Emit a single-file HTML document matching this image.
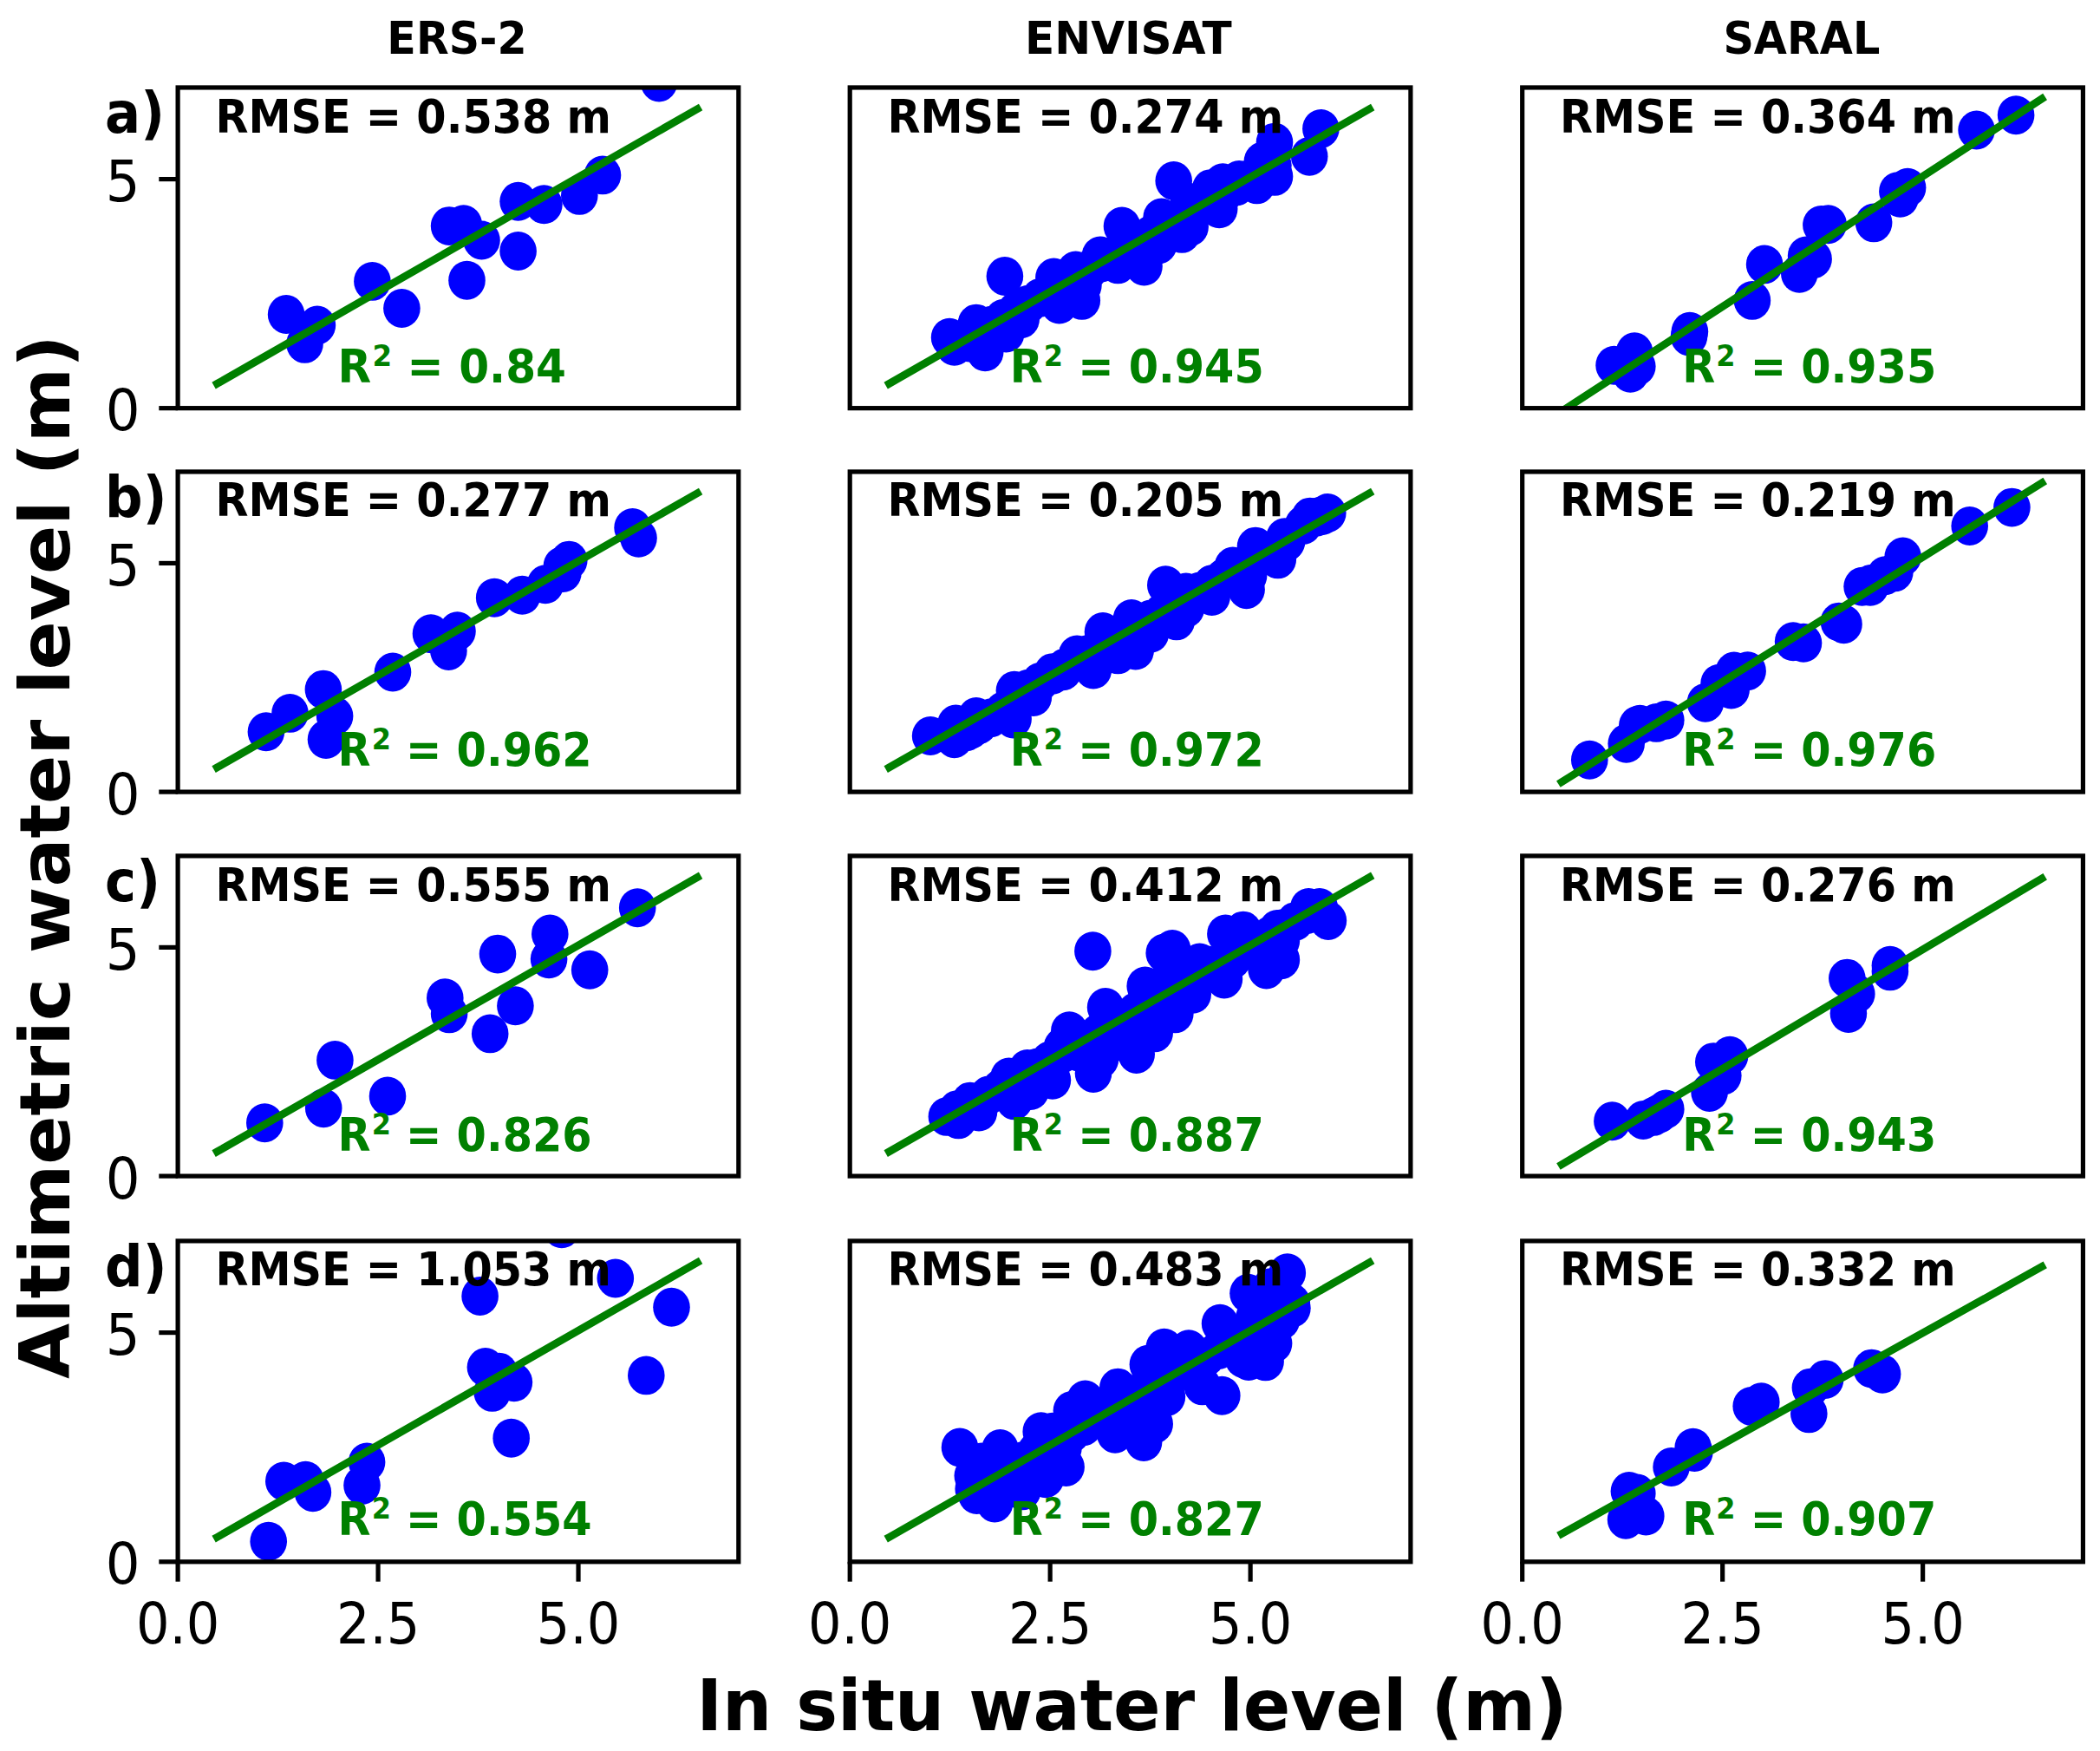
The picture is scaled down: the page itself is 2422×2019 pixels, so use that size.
<!DOCTYPE html>
<html lang="en"><head><meta charset="utf-8"><title>Altimetric vs in situ water level</title>
<style>html,body{margin:0;padding:0;background:#fff;overflow:hidden}svg{display:block}text{font-family:"DejaVu Sans","Liberation Sans",sans-serif}.b{font-weight:bold}.t{font-size:52.40px}.a{font-size:53.00px}.k{font-size:65.50px}.l{font-size:82.00px;font-weight:bold}.m{text-anchor:middle}.e{text-anchor:end}.g{fill:#008000}.p{fill:#0000ff}.ln{stroke:#008000;stroke-width:8.80;stroke-linecap:square;fill:none}.ax{fill:none;stroke:#000;stroke-width:5.20}.tk{stroke:#000;stroke-width:5.20;fill:none}</style></head><body>
<svg xmlns="http://www.w3.org/2000/svg" width="2422" height="2019" viewBox="0 0 2422 2019">
<rect width="2422" height="2019" fill="#fff"/>
<defs>
<clipPath id="c00"><rect x="205.10" y="100.95" width="646.70" height="369.70"/></clipPath>
<clipPath id="c01"><rect x="980.20" y="100.95" width="646.70" height="369.70"/></clipPath>
<clipPath id="c02"><rect x="1755.70" y="100.95" width="646.70" height="369.70"/></clipPath>
<clipPath id="c10"><rect x="205.10" y="543.95" width="646.70" height="369.15"/></clipPath>
<clipPath id="c11"><rect x="980.20" y="543.95" width="646.70" height="369.15"/></clipPath>
<clipPath id="c12"><rect x="1755.70" y="543.95" width="646.70" height="369.15"/></clipPath>
<clipPath id="c20"><rect x="205.10" y="986.90" width="646.70" height="369.20"/></clipPath>
<clipPath id="c21"><rect x="980.20" y="986.90" width="646.70" height="369.20"/></clipPath>
<clipPath id="c22"><rect x="1755.70" y="986.90" width="646.70" height="369.20"/></clipPath>
<clipPath id="c30"><rect x="205.10" y="1430.90" width="646.70" height="369.90"/></clipPath>
<clipPath id="c31"><rect x="980.20" y="1430.90" width="646.70" height="369.90"/></clipPath>
<clipPath id="c32"><rect x="1755.70" y="1430.90" width="646.70" height="369.90"/></clipPath>
</defs>
<g>
<g class="p" clip-path="url(#c00)"><ellipse cx="760.1" cy="95.0" rx="21.3" ry="22.45"/><ellipse cx="695.0" cy="201.9" rx="21.3" ry="22.45"/><ellipse cx="668.3" cy="225.4" rx="21.3" ry="22.45"/><ellipse cx="627.4" cy="235.8" rx="21.3" ry="22.45"/><ellipse cx="597.6" cy="232.3" rx="21.3" ry="22.45"/><ellipse cx="597.6" cy="289.5" rx="21.3" ry="22.45"/><ellipse cx="518.1" cy="260.6" rx="21.3" ry="22.45"/><ellipse cx="534.7" cy="258.7" rx="21.3" ry="22.45"/><ellipse cx="555.5" cy="277.0" rx="21.3" ry="22.45"/><ellipse cx="538.5" cy="323.2" rx="21.3" ry="22.45"/><ellipse cx="429.4" cy="324.4" rx="21.3" ry="22.45"/><ellipse cx="463.4" cy="355.5" rx="21.3" ry="22.45"/><ellipse cx="330.1" cy="362.5" rx="21.3" ry="22.45"/><ellipse cx="365.9" cy="375.0" rx="21.3" ry="22.45"/><ellipse cx="351.5" cy="396.4" rx="21.3" ry="22.45"/></g>
<g clip-path="url(#c00)"><path class="ln" d="M250.4 442.4L804.3 125.7"/></g>
<rect class="ax" x="205.10" y="100.95" width="646.70" height="369.70"/>
<path class="tk" d="M183.30 470.65H205.10"/>
<text class="k e" transform="translate(161.50 496.15) scale(0.955 1)">0</text>
<path class="tk" d="M183.30 206.58H205.10"/>
<text class="k e" transform="translate(161.50 232.08) scale(0.955 1)">5</text>
<text class="b k" transform="translate(121.10 152.95) scale(0.929 1)">a)</text>
<text class="b t m" transform="translate(526.95 62.10) scale(0.937 1)">ERS-2</text>
<text class="b a" transform="translate(248.40 152.65) scale(0.931 1)">RMSE = 0.538 m</text>
<text class="b a g" transform="translate(389.60 441.25) scale(0.948 1)">R<tspan dx="1.2" dy="-19.3" font-size="34.34px">2</tspan><tspan dy="19.3"> = 0.84</tspan></text>
</g>
<g>
<g class="p" clip-path="url(#c01)"><ellipse cx="1095.1" cy="389.2" rx="21.3" ry="22.45"/><ellipse cx="1125.9" cy="373.1" rx="21.3" ry="22.45"/><ellipse cx="1158.9" cy="318.5" rx="21.3" ry="22.45"/><ellipse cx="1179.3" cy="357.4" rx="21.3" ry="22.45"/><ellipse cx="1215.4" cy="320.0" rx="21.3" ry="22.45"/><ellipse cx="1240.6" cy="311.9" rx="21.3" ry="22.45"/><ellipse cx="1268.9" cy="294.9" rx="21.3" ry="22.45"/><ellipse cx="1294.0" cy="260.9" rx="21.3" ry="22.45"/><ellipse cx="1339.6" cy="250.9" rx="21.3" ry="22.45"/><ellipse cx="1353.7" cy="208.5" rx="21.3" ry="22.45"/><ellipse cx="1371.0" cy="233.3" rx="21.3" ry="22.45"/><ellipse cx="1396.1" cy="217.6" rx="21.3" ry="22.45"/><ellipse cx="1410.3" cy="210.7" rx="21.3" ry="22.45"/><ellipse cx="1429.1" cy="207.5" rx="21.3" ry="22.45"/><ellipse cx="1455.9" cy="186.1" rx="21.3" ry="22.45"/><ellipse cx="1470.0" cy="164.1" rx="21.3" ry="22.45"/><ellipse cx="1523.4" cy="148.4" rx="21.3" ry="22.45"/><ellipse cx="1510.2" cy="180.2" rx="21.3" ry="22.45"/><ellipse cx="1118.0" cy="395.1" rx="21.3" ry="22.45"/><ellipse cx="1136.2" cy="405.8" rx="21.3" ry="22.45"/><ellipse cx="1160.4" cy="384.1" rx="21.3" ry="22.45"/><ellipse cx="1177.7" cy="367.8" rx="21.3" ry="22.45"/><ellipse cx="1221.7" cy="351.1" rx="21.3" ry="22.45"/><ellipse cx="1247.8" cy="346.4" rx="21.3" ry="22.45"/><ellipse cx="1249.4" cy="329.1" rx="21.3" ry="22.45"/><ellipse cx="1289.3" cy="304.9" rx="21.3" ry="22.45"/><ellipse cx="1319.5" cy="307.1" rx="21.3" ry="22.45"/><ellipse cx="1336.4" cy="282.0" rx="21.3" ry="22.45"/><ellipse cx="1363.1" cy="269.4" rx="21.3" ry="22.45"/><ellipse cx="1372.6" cy="261.6" rx="21.3" ry="22.45"/><ellipse cx="1406.2" cy="240.8" rx="21.3" ry="22.45"/><ellipse cx="1449.6" cy="212.9" rx="21.3" ry="22.45"/><ellipse cx="1470.0" cy="203.4" rx="21.3" ry="22.45"/><ellipse cx="1100.7" cy="399.3" rx="21.3" ry="22.45"/><ellipse cx="1114.9" cy="391.3" rx="21.3" ry="22.45"/><ellipse cx="1129.0" cy="383.3" rx="21.3" ry="22.45"/><ellipse cx="1143.1" cy="375.3" rx="21.3" ry="22.45"/><ellipse cx="1157.3" cy="367.2" rx="21.3" ry="22.45"/><ellipse cx="1171.4" cy="359.2" rx="21.3" ry="22.45"/><ellipse cx="1185.6" cy="351.2" rx="21.3" ry="22.45"/><ellipse cx="1199.7" cy="343.2" rx="21.3" ry="22.45"/><ellipse cx="1213.9" cy="335.2" rx="21.3" ry="22.45"/><ellipse cx="1228.0" cy="327.1" rx="21.3" ry="22.45"/><ellipse cx="1242.1" cy="319.1" rx="21.3" ry="22.45"/><ellipse cx="1256.3" cy="311.1" rx="21.3" ry="22.45"/><ellipse cx="1270.4" cy="303.1" rx="21.3" ry="22.45"/><ellipse cx="1284.6" cy="295.1" rx="21.3" ry="22.45"/><ellipse cx="1298.7" cy="287.0" rx="21.3" ry="22.45"/><ellipse cx="1312.9" cy="279.0" rx="21.3" ry="22.45"/><ellipse cx="1327.0" cy="271.0" rx="21.3" ry="22.45"/><ellipse cx="1341.1" cy="263.0" rx="21.3" ry="22.45"/><ellipse cx="1355.3" cy="255.0" rx="21.3" ry="22.45"/><ellipse cx="1369.4" cy="246.9" rx="21.3" ry="22.45"/><ellipse cx="1383.6" cy="238.9" rx="21.3" ry="22.45"/><ellipse cx="1397.7" cy="230.9" rx="21.3" ry="22.45"/><ellipse cx="1411.9" cy="222.9" rx="21.3" ry="22.45"/><ellipse cx="1426.0" cy="214.9" rx="21.3" ry="22.45"/><ellipse cx="1440.1" cy="206.9" rx="21.3" ry="22.45"/><ellipse cx="1454.3" cy="198.8" rx="21.3" ry="22.45"/><ellipse cx="1468.4" cy="190.8" rx="21.3" ry="22.45"/></g>
<g clip-path="url(#c01)"><path class="ln" d="M1025.5 442.4L1579.4 125.7"/></g>
<rect class="ax" x="980.20" y="100.95" width="646.70" height="369.70"/>
<text class="b t m" transform="translate(1301.35 62.10) scale(0.956677 1)">ENVISAT</text>
<text class="b a" transform="translate(1023.50 152.65) scale(0.931 1)">RMSE = 0.274 m</text>
<text class="b a g" transform="translate(1164.70 441.25) scale(0.931 1)">R<tspan dx="1.2" dy="-19.3" font-size="34.34px">2</tspan><tspan dy="19.3"> = 0.945</tspan></text>
</g>
<g>
<g class="p" clip-path="url(#c02)"><ellipse cx="2325.1" cy="132.7" rx="21.3" ry="22.45"/><ellipse cx="2279.6" cy="150.0" rx="21.3" ry="22.45"/><ellipse cx="2200.1" cy="216.3" rx="21.3" ry="22.45"/><ellipse cx="2188.4" cy="220.7" rx="21.3" ry="22.45"/><ellipse cx="2191.6" cy="228.3" rx="21.3" ry="22.45"/><ellipse cx="2161.1" cy="256.9" rx="21.3" ry="22.45"/><ellipse cx="2100.4" cy="259.4" rx="21.3" ry="22.45"/><ellipse cx="2108.6" cy="258.7" rx="21.3" ry="22.45"/><ellipse cx="2083.1" cy="294.9" rx="21.3" ry="22.45"/><ellipse cx="2091.6" cy="298.7" rx="21.3" ry="22.45"/><ellipse cx="2075.3" cy="315.3" rx="21.3" ry="22.45"/><ellipse cx="2035.1" cy="304.9" rx="21.3" ry="22.45"/><ellipse cx="2020.9" cy="346.4" rx="21.3" ry="22.45"/><ellipse cx="1948.9" cy="382.3" rx="21.3" ry="22.45"/><ellipse cx="1948.0" cy="387.9" rx="21.3" ry="22.45"/><ellipse cx="1885.1" cy="405.8" rx="21.3" ry="22.45"/><ellipse cx="1861.6" cy="421.2" rx="21.3" ry="22.45"/><ellipse cx="1888.3" cy="422.5" rx="21.3" ry="22.45"/><ellipse cx="1880.4" cy="430.3" rx="21.3" ry="22.45"/></g>
<g clip-path="url(#c02)"><path class="ln" d="M1801.2 474.2L2354.9 113.9"/></g>
<rect class="ax" x="1755.70" y="100.95" width="646.70" height="369.70"/>
<text class="b t m" transform="translate(2077.85 62.10) scale(0.939811 1)">SARAL</text>
<text class="b a" transform="translate(1799.00 152.65) scale(0.931 1)">RMSE = 0.364 m</text>
<text class="b a g" transform="translate(1940.20 441.25) scale(0.931 1)">R<tspan dx="1.2" dy="-19.3" font-size="34.34px">2</tspan><tspan dy="19.3"> = 0.935</tspan></text>
</g>
<g>
<g class="p" clip-path="url(#c10)"><ellipse cx="729.6" cy="608.4" rx="21.3" ry="22.45"/><ellipse cx="736.5" cy="620.3" rx="21.3" ry="22.45"/><ellipse cx="656.3" cy="646.1" rx="21.3" ry="22.45"/><ellipse cx="647.9" cy="652.7" rx="21.3" ry="22.45"/><ellipse cx="649.4" cy="660.6" rx="21.3" ry="22.45"/><ellipse cx="629.0" cy="673.8" rx="21.3" ry="22.45"/><ellipse cx="602.3" cy="686.3" rx="21.3" ry="22.45"/><ellipse cx="570.2" cy="689.2" rx="21.3" ry="22.45"/><ellipse cx="497.0" cy="730.7" rx="21.3" ry="22.45"/><ellipse cx="527.5" cy="727.8" rx="21.3" ry="22.45"/><ellipse cx="517.4" cy="750.5" rx="21.3" ry="22.45"/><ellipse cx="453.0" cy="775.0" rx="21.3" ry="22.45"/><ellipse cx="372.9" cy="795.1" rx="21.3" ry="22.45"/><ellipse cx="386.1" cy="825.6" rx="21.3" ry="22.45"/><ellipse cx="376.0" cy="852.6" rx="21.3" ry="22.45"/><ellipse cx="334.5" cy="822.4" rx="21.3" ry="22.45"/><ellipse cx="306.9" cy="843.8" rx="21.3" ry="22.45"/></g>
<g clip-path="url(#c10)"><path class="ln" d="M250.4 884.9L804.3 568.7"/></g>
<rect class="ax" x="205.10" y="543.95" width="646.70" height="369.15"/>
<path class="tk" d="M183.30 913.10H205.10"/>
<text class="k e" transform="translate(161.50 938.60) scale(0.955 1)">0</text>
<path class="tk" d="M183.30 649.42H205.10"/>
<text class="k e" transform="translate(161.50 674.92) scale(0.955 1)">5</text>
<text class="b k" transform="translate(121.10 595.95) scale(0.929 1)">b)</text>
<text class="b a" transform="translate(248.40 595.35) scale(0.931 1)">RMSE = 0.277 m</text>
<text class="b a g" transform="translate(389.60 883.35) scale(0.931 1)">R<tspan dx="1.2" dy="-19.3" font-size="34.34px">2</tspan><tspan dy="19.3"> = 0.962</tspan></text>
</g>
<g>
<g class="p" clip-path="url(#c11)"><ellipse cx="1073.1" cy="848.5" rx="21.3" ry="22.45"/><ellipse cx="1102.3" cy="835.0" rx="21.3" ry="22.45"/><ellipse cx="1125.9" cy="826.5" rx="21.3" ry="22.45"/><ellipse cx="1119.6" cy="841.3" rx="21.3" ry="22.45"/><ellipse cx="1169.9" cy="796.3" rx="21.3" ry="22.45"/><ellipse cx="1213.9" cy="775.6" rx="21.3" ry="22.45"/><ellipse cx="1242.1" cy="754.9" rx="21.3" ry="22.45"/><ellipse cx="1272.0" cy="728.5" rx="21.3" ry="22.45"/><ellipse cx="1305.0" cy="713.4" rx="21.3" ry="22.45"/><ellipse cx="1344.3" cy="674.7" rx="21.3" ry="22.45"/><ellipse cx="1367.9" cy="682.9" rx="21.3" ry="22.45"/><ellipse cx="1397.7" cy="673.8" rx="21.3" ry="22.45"/><ellipse cx="1421.9" cy="653.0" rx="21.3" ry="22.45"/><ellipse cx="1448.0" cy="630.1" rx="21.3" ry="22.45"/><ellipse cx="1481.6" cy="619.7" rx="21.3" ry="22.45"/><ellipse cx="1510.9" cy="596.1" rx="21.3" ry="22.45"/><ellipse cx="1531.3" cy="591.4" rx="21.3" ry="22.45"/><ellipse cx="1168.6" cy="829.0" rx="21.3" ry="22.45"/><ellipse cx="1191.9" cy="803.6" rx="21.3" ry="22.45"/><ellipse cx="1226.4" cy="773.7" rx="21.3" ry="22.45"/><ellipse cx="1261.0" cy="772.1" rx="21.3" ry="22.45"/><ellipse cx="1289.3" cy="754.9" rx="21.3" ry="22.45"/><ellipse cx="1309.7" cy="750.1" rx="21.3" ry="22.45"/><ellipse cx="1327.0" cy="730.3" rx="21.3" ry="22.45"/><ellipse cx="1356.9" cy="715.9" rx="21.3" ry="22.45"/><ellipse cx="1367.9" cy="701.4" rx="21.3" ry="22.45"/><ellipse cx="1397.7" cy="687.6" rx="21.3" ry="22.45"/><ellipse cx="1437.6" cy="679.7" rx="21.3" ry="22.45"/><ellipse cx="1440.1" cy="663.7" rx="21.3" ry="22.45"/><ellipse cx="1473.8" cy="644.9" rx="21.3" ry="22.45"/><ellipse cx="1484.1" cy="624.4" rx="21.3" ry="22.45"/><ellipse cx="1525.0" cy="594.6" rx="21.3" ry="22.45"/><ellipse cx="1100.7" cy="851.7" rx="21.3" ry="22.45"/><ellipse cx="1114.9" cy="843.7" rx="21.3" ry="22.45"/><ellipse cx="1129.0" cy="835.7" rx="21.3" ry="22.45"/><ellipse cx="1143.1" cy="827.7" rx="21.3" ry="22.45"/><ellipse cx="1157.3" cy="819.7" rx="21.3" ry="22.45"/><ellipse cx="1171.4" cy="802.2" rx="21.3" ry="22.45"/><ellipse cx="1185.6" cy="794.2" rx="21.3" ry="22.45"/><ellipse cx="1199.7" cy="786.2" rx="21.3" ry="22.45"/><ellipse cx="1213.9" cy="778.2" rx="21.3" ry="22.45"/><ellipse cx="1228.0" cy="770.1" rx="21.3" ry="22.45"/><ellipse cx="1242.1" cy="762.1" rx="21.3" ry="22.45"/><ellipse cx="1256.3" cy="754.1" rx="21.3" ry="22.45"/><ellipse cx="1270.4" cy="746.1" rx="21.3" ry="22.45"/><ellipse cx="1284.6" cy="738.1" rx="21.3" ry="22.45"/><ellipse cx="1298.7" cy="730.0" rx="21.3" ry="22.45"/><ellipse cx="1312.9" cy="722.0" rx="21.3" ry="22.45"/><ellipse cx="1327.0" cy="714.0" rx="21.3" ry="22.45"/><ellipse cx="1341.1" cy="706.0" rx="21.3" ry="22.45"/><ellipse cx="1355.3" cy="698.0" rx="21.3" ry="22.45"/><ellipse cx="1369.4" cy="689.9" rx="21.3" ry="22.45"/><ellipse cx="1383.6" cy="681.9" rx="21.3" ry="22.45"/><ellipse cx="1397.7" cy="673.9" rx="21.3" ry="22.45"/><ellipse cx="1411.9" cy="665.9" rx="21.3" ry="22.45"/><ellipse cx="1426.0" cy="657.9" rx="21.3" ry="22.45"/><ellipse cx="1440.1" cy="649.9" rx="21.3" ry="22.45"/><ellipse cx="1454.3" cy="641.8" rx="21.3" ry="22.45"/><ellipse cx="1468.4" cy="633.8" rx="21.3" ry="22.45"/><ellipse cx="1482.6" cy="625.8" rx="21.3" ry="22.45"/><ellipse cx="1503.0" cy="605.6" rx="21.3" ry="22.45"/><ellipse cx="1518.7" cy="596.1" rx="21.3" ry="22.45"/></g>
<g clip-path="url(#c11)"><path class="ln" d="M1025.5 884.9L1579.4 568.7"/></g>
<rect class="ax" x="980.20" y="543.95" width="646.70" height="369.15"/>
<text class="b a" transform="translate(1023.50 595.35) scale(0.931 1)">RMSE = 0.205 m</text>
<text class="b a g" transform="translate(1164.70 883.35) scale(0.931 1)">R<tspan dx="1.2" dy="-19.3" font-size="34.34px">2</tspan><tspan dy="19.3"> = 0.972</tspan></text>
</g>
<g>
<g class="p" clip-path="url(#c12)"><ellipse cx="2320.4" cy="585.1" rx="21.3" ry="22.45"/><ellipse cx="2271.7" cy="606.5" rx="21.3" ry="22.45"/><ellipse cx="2194.7" cy="642.0" rx="21.3" ry="22.45"/><ellipse cx="2185.3" cy="659.9" rx="21.3" ry="22.45"/><ellipse cx="2174.3" cy="663.7" rx="21.3" ry="22.45"/><ellipse cx="2147.6" cy="676.3" rx="21.3" ry="22.45"/><ellipse cx="2158.6" cy="673.1" rx="21.3" ry="22.45"/><ellipse cx="2157.0" cy="676.3" rx="21.3" ry="22.45"/><ellipse cx="2120.9" cy="717.1" rx="21.3" ry="22.45"/><ellipse cx="2126.5" cy="719.7" rx="21.3" ry="22.45"/><ellipse cx="2068.1" cy="739.8" rx="21.3" ry="22.45"/><ellipse cx="2080.0" cy="741.3" rx="21.3" ry="22.45"/><ellipse cx="2015.6" cy="773.7" rx="21.3" ry="22.45"/><ellipse cx="1999.9" cy="774.0" rx="21.3" ry="22.45"/><ellipse cx="1982.6" cy="788.2" rx="21.3" ry="22.45"/><ellipse cx="1996.7" cy="795.1" rx="21.3" ry="22.45"/><ellipse cx="1966.9" cy="810.2" rx="21.3" ry="22.45"/><ellipse cx="1921.3" cy="830.3" rx="21.3" ry="22.45"/><ellipse cx="1891.4" cy="835.3" rx="21.3" ry="22.45"/><ellipse cx="1888.3" cy="836.6" rx="21.3" ry="22.45"/><ellipse cx="1910.3" cy="833.4" rx="21.3" ry="22.45"/><ellipse cx="1875.7" cy="857.3" rx="21.3" ry="22.45"/><ellipse cx="1833.3" cy="876.2" rx="21.3" ry="22.45"/></g>
<g clip-path="url(#c12)"><path class="ln" d="M1801.1 901.8L2355.0 556.8"/></g>
<rect class="ax" x="1755.70" y="543.95" width="646.70" height="369.15"/>
<text class="b a" transform="translate(1799.00 595.35) scale(0.931 1)">RMSE = 0.219 m</text>
<text class="b a g" transform="translate(1940.20 883.35) scale(0.931 1)">R<tspan dx="1.2" dy="-19.3" font-size="34.34px">2</tspan><tspan dy="19.3"> = 0.976</tspan></text>
</g>
<g>
<g class="p" clip-path="url(#c20)"><ellipse cx="735.2" cy="1046.7" rx="21.3" ry="22.45"/><ellipse cx="634.3" cy="1076.9" rx="21.3" ry="22.45"/><ellipse cx="633.1" cy="1105.8" rx="21.3" ry="22.45"/><ellipse cx="680.2" cy="1118.3" rx="21.3" ry="22.45"/><ellipse cx="574.0" cy="1100.1" rx="21.3" ry="22.45"/><ellipse cx="594.4" cy="1159.8" rx="21.3" ry="22.45"/><ellipse cx="565.2" cy="1191.9" rx="21.3" ry="22.45"/><ellipse cx="513.3" cy="1150.7" rx="21.3" ry="22.45"/><ellipse cx="518.1" cy="1168.9" rx="21.3" ry="22.45"/><ellipse cx="386.4" cy="1222.4" rx="21.3" ry="22.45"/><ellipse cx="447.0" cy="1263.9" rx="21.3" ry="22.45"/><ellipse cx="373.2" cy="1277.7" rx="21.3" ry="22.45"/><ellipse cx="305.3" cy="1294.7" rx="21.3" ry="22.45"/></g>
<g clip-path="url(#c20)"><path class="ln" d="M250.4 1327.9L804.3 1011.6"/></g>
<rect class="ax" x="205.10" y="986.90" width="646.70" height="369.20"/>
<path class="tk" d="M183.30 1356.10H205.10"/>
<text class="k e" transform="translate(161.50 1381.60) scale(0.955 1)">0</text>
<path class="tk" d="M183.30 1092.39H205.10"/>
<text class="k e" transform="translate(161.50 1117.89) scale(0.955 1)">5</text>
<text class="b k" transform="translate(121.10 1038.90) scale(0.929 1)">c)</text>
<text class="b a" transform="translate(248.40 1039.40) scale(0.931 1)">RMSE = 0.555 m</text>
<text class="b a g" transform="translate(389.60 1327.20) scale(0.931 1)">R<tspan dx="1.2" dy="-19.3" font-size="34.34px">2</tspan><tspan dy="19.3"> = 0.826</tspan></text>
</g>
<g>
<g class="p" clip-path="url(#c21)"><ellipse cx="1091.9" cy="1287.4" rx="21.3" ry="22.45"/><ellipse cx="1103.9" cy="1279.6" rx="21.3" ry="22.45"/><ellipse cx="1118.9" cy="1270.1" rx="21.3" ry="22.45"/><ellipse cx="1163.6" cy="1241.9" rx="21.3" ry="22.45"/><ellipse cx="1184.9" cy="1232.4" rx="21.3" ry="22.45"/><ellipse cx="1224.9" cy="1207.3" rx="21.3" ry="22.45"/><ellipse cx="1233.3" cy="1188.7" rx="21.3" ry="22.45"/><ellipse cx="1275.1" cy="1161.4" rx="21.3" ry="22.45"/><ellipse cx="1320.7" cy="1136.9" rx="21.3" ry="22.45"/><ellipse cx="1342.7" cy="1098.9" rx="21.3" ry="22.45"/><ellipse cx="1352.1" cy="1094.5" rx="21.3" ry="22.45"/><ellipse cx="1383.6" cy="1109.9" rx="21.3" ry="22.45"/><ellipse cx="1413.4" cy="1076.9" rx="21.3" ry="22.45"/><ellipse cx="1433.9" cy="1073.1" rx="21.3" ry="22.45"/><ellipse cx="1473.1" cy="1071.5" rx="21.3" ry="22.45"/><ellipse cx="1509.3" cy="1046.4" rx="21.3" ry="22.45"/><ellipse cx="1531.9" cy="1061.5" rx="21.3" ry="22.45"/><ellipse cx="1260.4" cy="1096.7" rx="21.3" ry="22.45"/><ellipse cx="1105.4" cy="1290.9" rx="21.3" ry="22.45"/><ellipse cx="1129.0" cy="1282.1" rx="21.3" ry="22.45"/><ellipse cx="1169.9" cy="1268.9" rx="21.3" ry="22.45"/><ellipse cx="1188.7" cy="1257.6" rx="21.3" ry="22.45"/><ellipse cx="1213.9" cy="1245.3" rx="21.3" ry="22.45"/><ellipse cx="1261.0" cy="1237.5" rx="21.3" ry="22.45"/><ellipse cx="1268.9" cy="1221.4" rx="21.3" ry="22.45"/><ellipse cx="1310.7" cy="1215.5" rx="21.3" ry="22.45"/><ellipse cx="1331.7" cy="1190.9" rx="21.3" ry="22.45"/><ellipse cx="1355.3" cy="1168.9" rx="21.3" ry="22.45"/><ellipse cx="1375.7" cy="1146.3" rx="21.3" ry="22.45"/><ellipse cx="1411.9" cy="1129.0" rx="21.3" ry="22.45"/><ellipse cx="1460.6" cy="1118.0" rx="21.3" ry="22.45"/><ellipse cx="1477.9" cy="1106.7" rx="21.3" ry="22.45"/><ellipse cx="1477.9" cy="1084.7" rx="21.3" ry="22.45"/><ellipse cx="1245.3" cy="1213.6" rx="21.3" ry="22.45"/><ellipse cx="1289.3" cy="1182.1" rx="21.3" ry="22.45"/><ellipse cx="1327.0" cy="1157.0" rx="21.3" ry="22.45"/><ellipse cx="1345.9" cy="1131.9" rx="21.3" ry="22.45"/><ellipse cx="1367.9" cy="1119.3" rx="21.3" ry="22.45"/><ellipse cx="1393.0" cy="1113.0" rx="21.3" ry="22.45"/><ellipse cx="1421.3" cy="1106.7" rx="21.3" ry="22.45"/><ellipse cx="1446.4" cy="1097.3" rx="21.3" ry="22.45"/><ellipse cx="1440.1" cy="1084.7" rx="21.3" ry="22.45"/><ellipse cx="1459.0" cy="1084.7" rx="21.3" ry="22.45"/><ellipse cx="1292.4" cy="1201.0" rx="21.3" ry="22.45"/><ellipse cx="1320.7" cy="1175.9" rx="21.3" ry="22.45"/><ellipse cx="1097.6" cy="1287.1" rx="21.3" ry="22.45"/><ellipse cx="1111.7" cy="1279.1" rx="21.3" ry="22.45"/><ellipse cx="1125.9" cy="1271.1" rx="21.3" ry="22.45"/><ellipse cx="1140.0" cy="1263.0" rx="21.3" ry="22.45"/><ellipse cx="1154.1" cy="1255.0" rx="21.3" ry="22.45"/><ellipse cx="1168.3" cy="1247.0" rx="21.3" ry="22.45"/><ellipse cx="1182.4" cy="1239.0" rx="21.3" ry="22.45"/><ellipse cx="1196.6" cy="1231.0" rx="21.3" ry="22.45"/><ellipse cx="1210.7" cy="1222.9" rx="21.3" ry="22.45"/><ellipse cx="1224.9" cy="1214.9" rx="21.3" ry="22.45"/><ellipse cx="1239.0" cy="1206.9" rx="21.3" ry="22.45"/><ellipse cx="1253.1" cy="1198.9" rx="21.3" ry="22.45"/><ellipse cx="1267.3" cy="1190.9" rx="21.3" ry="22.45"/><ellipse cx="1281.4" cy="1182.8" rx="21.3" ry="22.45"/><ellipse cx="1295.6" cy="1174.8" rx="21.3" ry="22.45"/><ellipse cx="1309.7" cy="1166.8" rx="21.3" ry="22.45"/><ellipse cx="1323.9" cy="1158.8" rx="21.3" ry="22.45"/><ellipse cx="1338.0" cy="1150.8" rx="21.3" ry="22.45"/><ellipse cx="1352.1" cy="1142.7" rx="21.3" ry="22.45"/><ellipse cx="1366.3" cy="1134.7" rx="21.3" ry="22.45"/><ellipse cx="1380.4" cy="1126.7" rx="21.3" ry="22.45"/><ellipse cx="1394.6" cy="1118.7" rx="21.3" ry="22.45"/><ellipse cx="1408.7" cy="1110.7" rx="21.3" ry="22.45"/><ellipse cx="1422.9" cy="1102.7" rx="21.3" ry="22.45"/><ellipse cx="1437.0" cy="1094.6" rx="21.3" ry="22.45"/><ellipse cx="1451.1" cy="1086.6" rx="21.3" ry="22.45"/><ellipse cx="1465.3" cy="1078.6" rx="21.3" ry="22.45"/><ellipse cx="1479.4" cy="1070.6" rx="21.3" ry="22.45"/><ellipse cx="1493.6" cy="1062.6" rx="21.3" ry="22.45"/><ellipse cx="1507.7" cy="1054.5" rx="21.3" ry="22.45"/><ellipse cx="1521.9" cy="1046.5" rx="21.3" ry="22.45"/></g>
<g clip-path="url(#c21)"><path class="ln" d="M1025.5 1327.9L1579.4 1011.6"/></g>
<rect class="ax" x="980.20" y="986.90" width="646.70" height="369.20"/>
<text class="b a" transform="translate(1023.50 1039.40) scale(0.931 1)">RMSE = 0.412 m</text>
<text class="b a g" transform="translate(1164.70 1327.20) scale(0.931 1)">R<tspan dx="1.2" dy="-19.3" font-size="34.34px">2</tspan><tspan dy="19.3"> = 0.887</tspan></text>
</g>
<g>
<g class="p" clip-path="url(#c22)"><ellipse cx="2179.9" cy="1113.3" rx="21.3" ry="22.45"/><ellipse cx="2179.9" cy="1119.9" rx="21.3" ry="22.45"/><ellipse cx="2130.3" cy="1128.1" rx="21.3" ry="22.45"/><ellipse cx="2141.3" cy="1146.0" rx="21.3" ry="22.45"/><ellipse cx="2131.9" cy="1168.6" rx="21.3" ry="22.45"/><ellipse cx="1995.1" cy="1217.3" rx="21.3" ry="22.45"/><ellipse cx="1976.3" cy="1224.6" rx="21.3" ry="22.45"/><ellipse cx="1987.3" cy="1240.3" rx="21.3" ry="22.45"/><ellipse cx="1971.6" cy="1259.5" rx="21.3" ry="22.45"/><ellipse cx="1921.3" cy="1278.9" rx="21.3" ry="22.45"/><ellipse cx="1913.4" cy="1284.3" rx="21.3" ry="22.45"/><ellipse cx="1907.1" cy="1287.4" rx="21.3" ry="22.45"/><ellipse cx="1895.2" cy="1291.5" rx="21.3" ry="22.45"/><ellipse cx="1859.4" cy="1292.8" rx="21.3" ry="22.45"/></g>
<g clip-path="url(#c22)"><path class="ln" d="M1801.2 1342.7L2354.9 1013.0"/></g>
<rect class="ax" x="1755.70" y="986.90" width="646.70" height="369.20"/>
<text class="b a" transform="translate(1799.00 1039.40) scale(0.931 1)">RMSE = 0.276 m</text>
<text class="b a g" transform="translate(1940.20 1327.20) scale(0.931 1)">R<tspan dx="1.2" dy="-19.3" font-size="34.34px">2</tspan><tspan dy="19.3"> = 0.943</tspan></text>
</g>
<g>
<g class="p" clip-path="url(#c30)"><ellipse cx="647.9" cy="1416.8" rx="21.3" ry="22.45"/><ellipse cx="709.8" cy="1474.0" rx="21.3" ry="22.45"/><ellipse cx="774.5" cy="1507.3" rx="21.3" ry="22.45"/><ellipse cx="553.6" cy="1494.5" rx="21.3" ry="22.45"/><ellipse cx="745.3" cy="1585.9" rx="21.3" ry="22.45"/><ellipse cx="559.9" cy="1576.5" rx="21.3" ry="22.45"/><ellipse cx="575.6" cy="1582.1" rx="21.3" ry="22.45"/><ellipse cx="592.9" cy="1593.8" rx="21.3" ry="22.45"/><ellipse cx="567.7" cy="1605.4" rx="21.3" ry="22.45"/><ellipse cx="589.7" cy="1658.2" rx="21.3" ry="22.45"/><ellipse cx="423.1" cy="1685.9" rx="21.3" ry="22.45"/><ellipse cx="417.5" cy="1712.6" rx="21.3" ry="22.45"/><ellipse cx="327.3" cy="1707.9" rx="21.3" ry="22.45"/><ellipse cx="352.4" cy="1707.2" rx="21.3" ry="22.45"/><ellipse cx="360.9" cy="1720.7" rx="21.3" ry="22.45"/><ellipse cx="309.7" cy="1777.3" rx="21.3" ry="22.45"/></g>
<g clip-path="url(#c30)"><path class="ln" d="M250.4 1772.5L804.3 1455.7"/></g>
<rect class="ax" x="205.10" y="1430.90" width="646.70" height="369.90"/>
<path class="tk" d="M183.30 1800.80H205.10"/>
<text class="k e" transform="translate(161.50 1826.30) scale(0.955 1)">0</text>
<path class="tk" d="M183.30 1536.59H205.10"/>
<text class="k e" transform="translate(161.50 1562.09) scale(0.955 1)">5</text>
<text class="b k" transform="translate(121.10 1482.90) scale(0.929 1)">d)</text>
<path class="tk" d="M205.10 1800.80V1823.70"/>
<text class="k m" transform="translate(205.10 1894.80) scale(0.925 1)">0.0</text>
<path class="tk" d="M436.06 1800.80V1823.70"/>
<text class="k m" transform="translate(436.06 1894.80) scale(0.925 1)">2.5</text>
<path class="tk" d="M667.03 1800.80V1823.70"/>
<text class="k m" transform="translate(667.03 1894.80) scale(0.925 1)">5.0</text>
<text class="b a" transform="translate(248.40 1482.20) scale(0.931 1)">RMSE = 1.053 m</text>
<text class="b a g" transform="translate(389.60 1770.20) scale(0.931 1)">R<tspan dx="1.2" dy="-19.3" font-size="34.34px">2</tspan><tspan dy="19.3"> = 0.554</tspan></text>
</g>
<g>
<g class="p" clip-path="url(#c31)"><ellipse cx="1107.0" cy="1668.9" rx="21.3" ry="22.45"/><ellipse cx="1153.5" cy="1670.5" rx="21.3" ry="22.45"/><ellipse cx="1121.8" cy="1701.6" rx="21.3" ry="22.45"/><ellipse cx="1200.7" cy="1650.7" rx="21.3" ry="22.45"/><ellipse cx="1235.9" cy="1626.5" rx="21.3" ry="22.45"/><ellipse cx="1251.6" cy="1613.9" rx="21.3" ry="22.45"/><ellipse cx="1289.3" cy="1600.1" rx="21.3" ry="22.45"/><ellipse cx="1323.9" cy="1573.3" rx="21.3" ry="22.45"/><ellipse cx="1342.7" cy="1554.2" rx="21.3" ry="22.45"/><ellipse cx="1371.0" cy="1555.7" rx="21.3" ry="22.45"/><ellipse cx="1407.1" cy="1526.2" rx="21.3" ry="22.45"/><ellipse cx="1439.5" cy="1491.3" rx="21.3" ry="22.45"/><ellipse cx="1484.8" cy="1467.7" rx="21.3" ry="22.45"/><ellipse cx="1489.8" cy="1502.0" rx="21.3" ry="22.45"/><ellipse cx="1126.5" cy="1723.6" rx="21.3" ry="22.45"/><ellipse cx="1147.2" cy="1733.0" rx="21.3" ry="22.45"/><ellipse cx="1179.3" cy="1718.9" rx="21.3" ry="22.45"/><ellipse cx="1206.0" cy="1704.7" rx="21.3" ry="22.45"/><ellipse cx="1229.6" cy="1691.5" rx="21.3" ry="22.45"/><ellipse cx="1226.4" cy="1670.1" rx="21.3" ry="22.45"/><ellipse cx="1237.4" cy="1649.7" rx="21.3" ry="22.45"/><ellipse cx="1286.1" cy="1653.2" rx="21.3" ry="22.45"/><ellipse cx="1319.1" cy="1662.6" rx="21.3" ry="22.45"/><ellipse cx="1331.7" cy="1641.9" rx="21.3" ry="22.45"/><ellipse cx="1345.9" cy="1610.4" rx="21.3" ry="22.45"/><ellipse cx="1386.7" cy="1597.9" rx="21.3" ry="22.45"/><ellipse cx="1409.3" cy="1609.2" rx="21.3" ry="22.45"/><ellipse cx="1384.2" cy="1572.7" rx="21.3" ry="22.45"/><ellipse cx="1433.9" cy="1566.4" rx="21.3" ry="22.45"/><ellipse cx="1440.1" cy="1569.6" rx="21.3" ry="22.45"/><ellipse cx="1459.6" cy="1569.9" rx="21.3" ry="22.45"/><ellipse cx="1469.1" cy="1549.1" rx="21.3" ry="22.45"/><ellipse cx="1477.9" cy="1522.4" rx="21.3" ry="22.45"/><ellipse cx="1132.1" cy="1685.9" rx="21.3" ry="22.45"/><ellipse cx="1151.0" cy="1695.3" rx="21.3" ry="22.45"/><ellipse cx="1169.9" cy="1695.3" rx="21.3" ry="22.45"/><ellipse cx="1195.0" cy="1673.3" rx="21.3" ry="22.45"/><ellipse cx="1213.9" cy="1651.3" rx="21.3" ry="22.45"/><ellipse cx="1305.0" cy="1632.4" rx="21.3" ry="22.45"/><ellipse cx="1320.7" cy="1601.0" rx="21.3" ry="22.45"/><ellipse cx="1352.1" cy="1579.0" rx="21.3" ry="22.45"/><ellipse cx="1446.4" cy="1519.3" rx="21.3" ry="22.45"/><ellipse cx="1459.0" cy="1497.3" rx="21.3" ry="22.45"/><ellipse cx="1465.3" cy="1484.7" rx="21.3" ry="22.45"/><ellipse cx="1427.6" cy="1544.4" rx="21.3" ry="22.45"/><ellipse cx="1452.7" cy="1544.4" rx="21.3" ry="22.45"/><ellipse cx="1122.7" cy="1716.8" rx="21.3" ry="22.45"/><ellipse cx="1136.9" cy="1708.8" rx="21.3" ry="22.45"/><ellipse cx="1151.0" cy="1700.8" rx="21.3" ry="22.45"/><ellipse cx="1165.1" cy="1692.8" rx="21.3" ry="22.45"/><ellipse cx="1179.3" cy="1684.8" rx="21.3" ry="22.45"/><ellipse cx="1193.4" cy="1676.7" rx="21.3" ry="22.45"/><ellipse cx="1207.6" cy="1668.7" rx="21.3" ry="22.45"/><ellipse cx="1221.7" cy="1660.7" rx="21.3" ry="22.45"/><ellipse cx="1235.9" cy="1652.7" rx="21.3" ry="22.45"/><ellipse cx="1250.0" cy="1644.7" rx="21.3" ry="22.45"/><ellipse cx="1264.1" cy="1636.6" rx="21.3" ry="22.45"/><ellipse cx="1278.3" cy="1628.6" rx="21.3" ry="22.45"/><ellipse cx="1292.4" cy="1620.6" rx="21.3" ry="22.45"/><ellipse cx="1306.6" cy="1612.6" rx="21.3" ry="22.45"/><ellipse cx="1320.7" cy="1604.6" rx="21.3" ry="22.45"/><ellipse cx="1334.9" cy="1596.5" rx="21.3" ry="22.45"/><ellipse cx="1349.0" cy="1588.5" rx="21.3" ry="22.45"/><ellipse cx="1363.1" cy="1580.5" rx="21.3" ry="22.45"/><ellipse cx="1377.3" cy="1572.5" rx="21.3" ry="22.45"/><ellipse cx="1391.4" cy="1564.5" rx="21.3" ry="22.45"/><ellipse cx="1405.6" cy="1556.5" rx="21.3" ry="22.45"/><ellipse cx="1419.7" cy="1548.4" rx="21.3" ry="22.45"/><ellipse cx="1433.9" cy="1540.4" rx="21.3" ry="22.45"/><ellipse cx="1448.0" cy="1532.4" rx="21.3" ry="22.45"/><ellipse cx="1462.1" cy="1524.4" rx="21.3" ry="22.45"/><ellipse cx="1476.3" cy="1516.4" rx="21.3" ry="22.45"/><ellipse cx="1490.4" cy="1508.3" rx="21.3" ry="22.45"/></g>
<g clip-path="url(#c31)"><path class="ln" d="M1025.5 1772.5L1579.4 1455.7"/></g>
<rect class="ax" x="980.20" y="1430.90" width="646.70" height="369.90"/>
<path class="tk" d="M980.20 1800.80V1823.70"/>
<text class="k m" transform="translate(980.20 1894.80) scale(0.925 1)">0.0</text>
<path class="tk" d="M1211.16 1800.80V1823.70"/>
<text class="k m" transform="translate(1211.16 1894.80) scale(0.925 1)">2.5</text>
<path class="tk" d="M1442.13 1800.80V1823.70"/>
<text class="k m" transform="translate(1442.13 1894.80) scale(0.925 1)">5.0</text>
<text class="b a" transform="translate(1023.50 1482.20) scale(0.931 1)">RMSE = 0.483 m</text>
<text class="b a g" transform="translate(1164.70 1770.20) scale(0.931 1)">R<tspan dx="1.2" dy="-19.3" font-size="34.34px">2</tspan><tspan dy="19.3"> = 0.827</tspan></text>
</g>
<g>
<g class="p" clip-path="url(#c32)"><ellipse cx="2158.6" cy="1578.1" rx="21.3" ry="22.45"/><ellipse cx="2171.1" cy="1584.3" rx="21.3" ry="22.45"/><ellipse cx="2105.1" cy="1590.6" rx="21.3" ry="22.45"/><ellipse cx="2087.9" cy="1600.1" rx="21.3" ry="22.45"/><ellipse cx="2086.3" cy="1629.9" rx="21.3" ry="22.45"/><ellipse cx="2031.3" cy="1616.7" rx="21.3" ry="22.45"/><ellipse cx="2019.7" cy="1621.4" rx="21.3" ry="22.45"/><ellipse cx="1952.7" cy="1669.2" rx="21.3" ry="22.45"/><ellipse cx="1954.3" cy="1674.5" rx="21.3" ry="22.45"/><ellipse cx="1927.6" cy="1691.5" rx="21.3" ry="22.45"/><ellipse cx="1878.9" cy="1719.5" rx="21.3" ry="22.45"/><ellipse cx="1888.3" cy="1722.0" rx="21.3" ry="22.45"/><ellipse cx="1898.3" cy="1748.1" rx="21.3" ry="22.45"/><ellipse cx="1875.1" cy="1752.2" rx="21.3" ry="22.45"/></g>
<g clip-path="url(#c32)"><path class="ln" d="M1801.2 1768.5L2354.9 1460.6"/></g>
<rect class="ax" x="1755.70" y="1430.90" width="646.70" height="369.90"/>
<path class="tk" d="M1755.70 1800.80V1823.70"/>
<text class="k m" transform="translate(1755.70 1894.80) scale(0.925 1)">0.0</text>
<path class="tk" d="M1986.66 1800.80V1823.70"/>
<text class="k m" transform="translate(1986.66 1894.80) scale(0.925 1)">2.5</text>
<path class="tk" d="M2217.63 1800.80V1823.70"/>
<text class="k m" transform="translate(2217.63 1894.80) scale(0.925 1)">5.0</text>
<text class="b a" transform="translate(1799.00 1482.20) scale(0.931 1)">RMSE = 0.332 m</text>
<text class="b a g" transform="translate(1940.20 1770.20) scale(0.931 1)">R<tspan dx="1.2" dy="-19.3" font-size="34.34px">2</tspan><tspan dy="19.3"> = 0.907</tspan></text>
</g>
<text class="l m" transform="translate(1305.50 1994.50) scale(0.98 1)">In situ water level (m)</text>
<text class="l m" transform="translate(79.50 988.00) rotate(-90) scale(1.0122 0.9666)">Altimetric water level (m)</text>
</svg></body></html>
